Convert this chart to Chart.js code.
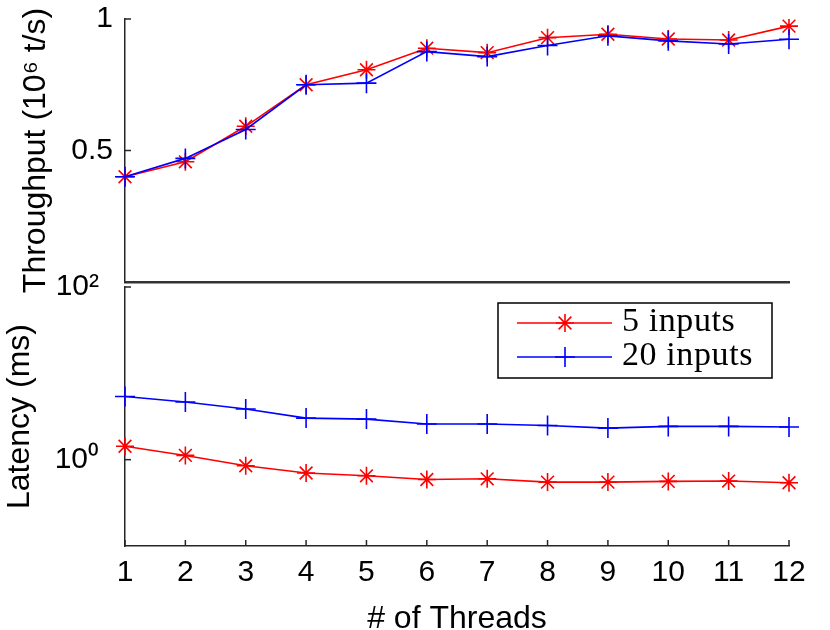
<!DOCTYPE html>
<html>
<head>
<meta charset="utf-8">
<script src="https://cdn.jsdelivr.net/npm/chart.js@4.4.1/dist/chart.umd.min.js"></script>
<style>
  html, body { margin: 0; padding: 0; background: #fff; }
  #wrap { position: relative; width: 830px; height: 630px; }
  #wrap canvas { position: absolute; left: 0; top: 0; }
</style>
</head>
<body>
<div id="wrap">
  <canvas id="tputChart" width="830" height="630"></canvas>
  <canvas id="latChart" width="830" height="630"></canvas>
</div>
<script>
const threads = ["1", "2", "3", "4", "5", "6", "7", "8", "9", "10", "11", "12"];

// throughput, 10^6 tuples/s
const tput5 = [0.40, 0.457, 0.592, 0.75, 0.807, 0.889, 0.872, 0.929, 0.942, 0.924, 0.92, 0.973];
const tput20 = [0.40, 0.47, 0.58, 0.75, 0.756, 0.876, 0.857, 0.899, 0.936, 0.917, 0.905, 0.923];

// latency, ms
const lat5 = [1.43, 1.12, 0.85, 0.70, 0.65, 0.59, 0.60, 0.55, 0.55, 0.56, 0.565, 0.54];
const lat20 = [5.4, 4.65, 3.86, 3.03, 2.95, 2.59, 2.59, 2.49, 2.32, 2.43, 2.43, 2.39];

const tputTicks = [0.5, 1];
const latTicks = [1, 100];
const latTickLabels = ["10\u2070", "10\u00b2"];

const sans = "'Liberation Sans', Arial, sans-serif";
const axisColor = "#262626";

// matlab style ticks, pointing into the plot
const inwardTicks = {
  id: "inwardTicks",
  beforeDatasetsDraw(chart, args, opts) {
    const { ctx, chartArea } = chart;
    ctx.save();
    ctx.strokeStyle = axisColor;
    ctx.lineWidth = 1.5;
    const y = chart.scales.y;
    y.ticks.forEach(t => {
      const py = y.getPixelForValue(t.value);
      ctx.beginPath();
      ctx.moveTo(chartArea.left, py);
      ctx.lineTo(chartArea.left + 6, py);
      ctx.stroke();
    });
    if (opts.xTicks) {
      const x = chart.scales.x;
      x.ticks.forEach((t, i) => {
        const px = x.getPixelForTick(i);
        ctx.beginPath();
        ctx.moveTo(px, chartArea.bottom);
        ctx.lineTo(px, chartArea.bottom - 6);
        ctx.stroke();
      });
    }
    ctx.restore();
  }
};

// boxed legend in the top right of the latency panel
const boxLegend = {
  id: "boxLegend",
  afterDraw(chart) {
    const { ctx, chartArea } = chart;
    const w = 274, h = 75;
    const left = chartArea.right - 17 - w;
    const top = chartArea.top + 16;
    ctx.save();
    ctx.fillStyle = "#fff";
    ctx.fillRect(left, top, w, h);
    ctx.strokeStyle = "#000";
    ctx.lineWidth = 1.5;
    ctx.strokeRect(left, top, w, h);
    chart.data.datasets.forEach((ds, i) => {
      const y = top + 20 + i * 34;
      ctx.strokeStyle = ds.borderColor;
      ctx.lineWidth = ds.borderWidth;
      ctx.beginPath();
      ctx.moveTo(left + 19, y);
      ctx.lineTo(left + 114, y);
      ctx.stroke();
      ctx.lineWidth = ds.pointBorderWidth;
      Chart.helpers.drawPoint(ctx, { pointStyle: ds.pointStyle, radius: ds.pointRadius, rotation: 0, borderWidth: ds.pointBorderWidth }, left + 67, y);
      ctx.fillStyle = "#000";
      ctx.font = "34px 'Liberation Serif', 'Times New Roman', serif";
      ctx.letterSpacing = "0.6px";
      ctx.textBaseline = "middle";
      ctx.fillText(ds.label, left + 124, y - 1);
    });
    ctx.restore();
  }
};

function series(label, data, color, style, radius, order) {
  return {
    label: label,
    data: data,
    borderColor: color,
    backgroundColor: color,
    borderWidth: 1.6,
    pointStyle: style,
    pointRadius: radius,
    pointBorderColor: color,
    pointBorderWidth: 1.6,
    tension: 0,
    fill: false,
    order: order
  };
}

// fixed axis width, and no extra room for the end labels
function fixY(s) {
  s.width = 125;
  s.paddingTop = 0;
  s.paddingBottom = 0;
}

new Chart(document.getElementById("tputChart"), {
  type: "line",
  data: {
    labels: threads,
    datasets: [
      series("5 inputs", tput5, "#ff0000", "star", 9, 1),
      series("20 inputs", tput20, "#0000ff", "cross", 10, 0)
    ]
  },
  options: {
    responsive: false,
    animation: false,
    events: [],
    layout: { padding: { left: 0, top: 19, right: 41, bottom: 348 } },
    plugins: {
      legend: { display: false },
      tooltip: { enabled: false },
      inwardTicks: { xTicks: false }
    },
    scales: {
      x: {
        grid: { display: false, drawTicks: false },
        border: { color: "#333", width: 2.5 },
        ticks: { display: false },
        afterFit: s => { s.height = 0; }
      },
      y: {
        min: 0,
        max: 1,
        afterBuildTicks: s => { s.ticks = tputTicks.map(v => ({ value: v })); },
        afterFit: fixY,
        grid: { display: false, drawTicks: false },
        border: { color: axisColor, width: 1.5 },
        ticks: { color: "#000", padding: 12, font: { family: sans, size: 30 }, callback: v => String(v) },
        title: {
          display: true,
          text: "Throughput (10\u2076 t/s)",
          color: "#000",
          font: { family: sans, size: 32 },
          padding: { top: 17, bottom: 0 }
        }
      }
    }
  },
  plugins: [inwardTicks]
});

new Chart(document.getElementById("latChart"), {
  type: "line",
  data: {
    labels: threads,
    datasets: [
      series("5 inputs", lat5, "#ff0000", "star", 9, 1),
      series("20 inputs", lat20, "#0000ff", "cross", 10, 0)
    ]
  },
  options: {
    responsive: false,
    animation: false,
    events: [],
    layout: { padding: { left: 0, top: 287, right: 41, bottom: 0 } },
    plugins: {
      legend: { display: false },
      tooltip: { enabled: false },
      inwardTicks: { xTicks: true }
    },
    scales: {
      x: {
        grid: { display: false, drawTicks: false },
        border: { color: axisColor, width: 1.5 },
        ticks: { color: "#000", padding: 9, maxRotation: 0, autoSkip: false, font: { family: sans, size: 30 } },
        title: {
          display: true,
          text: "# of Threads",
          color: "#000",
          font: { family: sans, size: 32, lineHeight: 0.8 },
          padding: { top: 0, bottom: -2 }
        },
        afterFit: s => { s.height = 84; }
      },
      y: {
        type: "logarithmic",
        min: 0.1,
        max: 100,
        afterBuildTicks: s => { s.ticks = latTicks.map(v => ({ value: v })); },
        afterFit: fixY,
        grid: { display: false, drawTicks: false },
        border: { color: axisColor, width: 1.5 },
        ticks: { color: "#000", padding: 26, font: { family: sans, size: 30 }, callback: (v, i) => latTickLabels[i] },
        title: {
          display: true,
          text: "Latency (ms)",
          color: "#000",
          font: { family: sans, size: 32 },
          padding: { top: 1, bottom: 0 }
        }
      }
    }
  },
  plugins: [inwardTicks, boxLegend]
});
</script>
</body>
</html>
